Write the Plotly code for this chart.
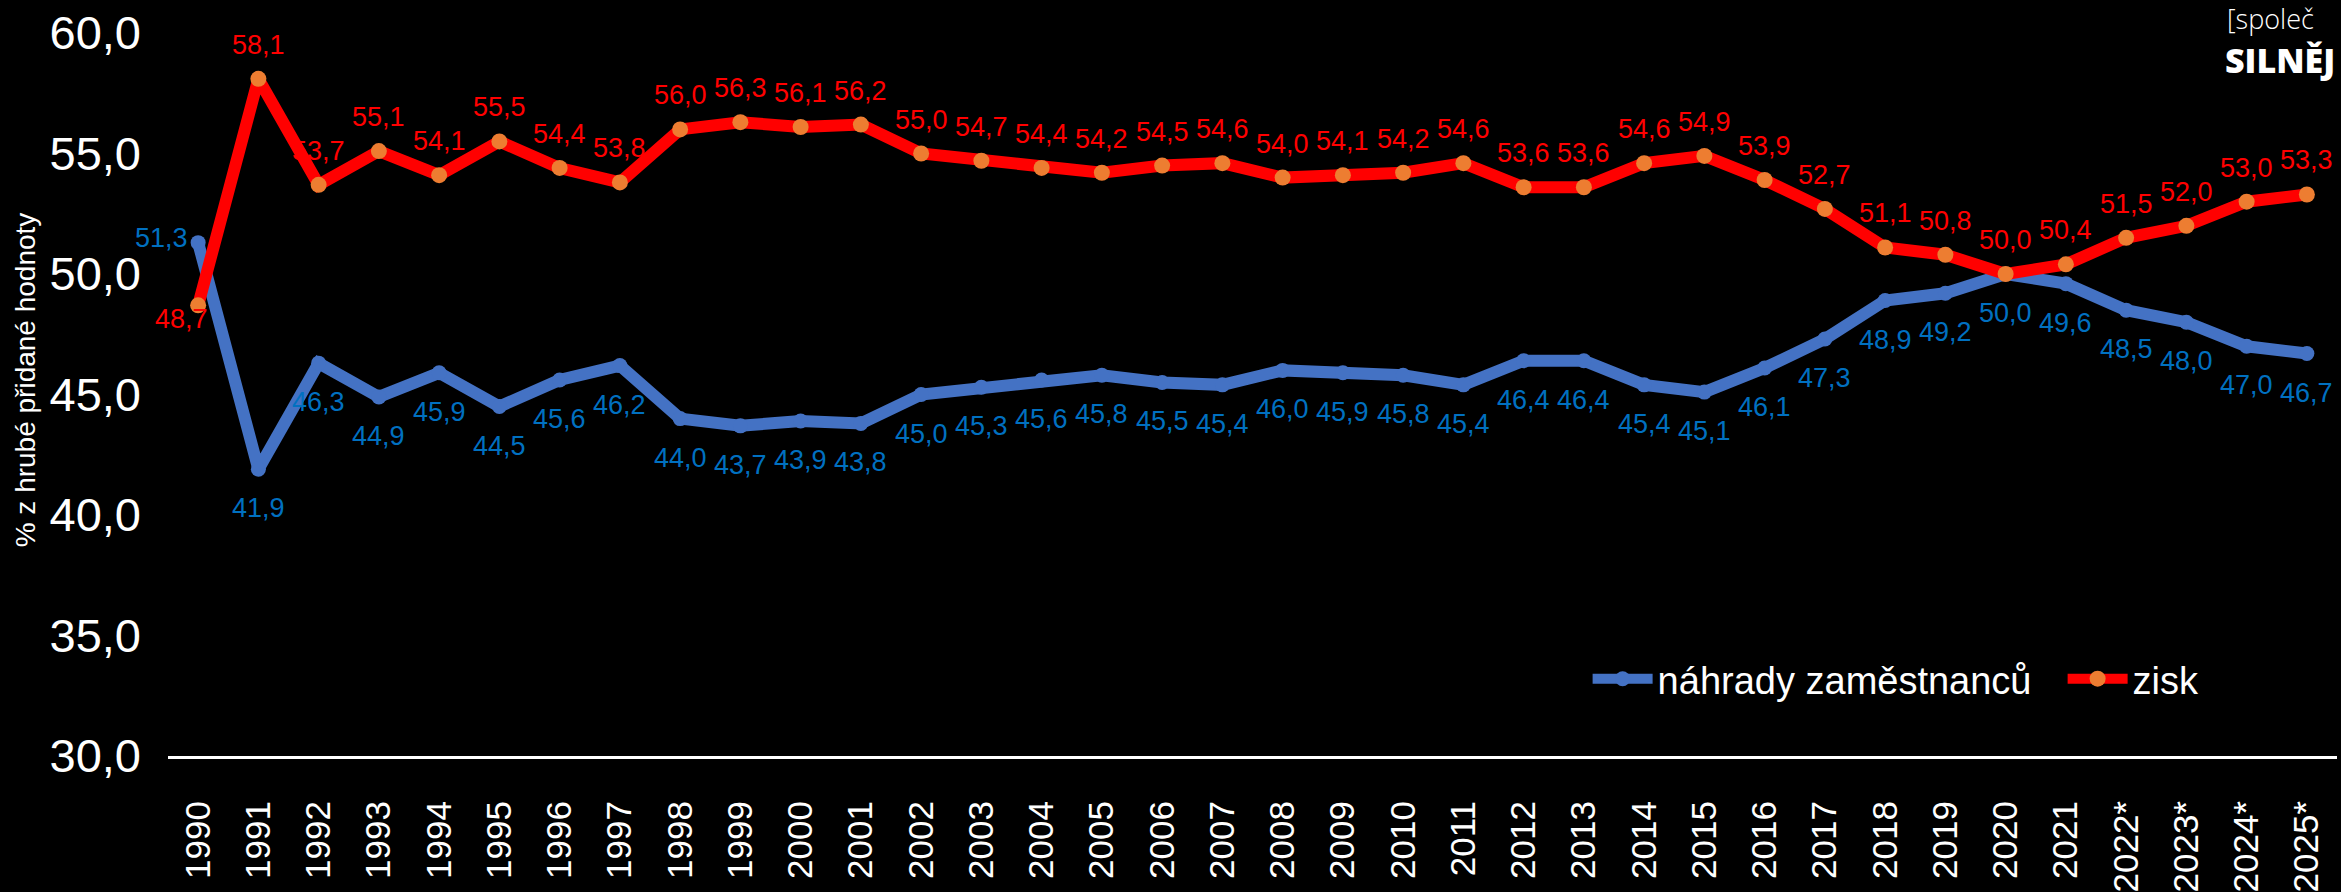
import plotly.graph_objects as go

years = ["1990", "1991", "1992", "1993", "1994", "1995", "1996", "1997", "1998", "1999",
         "2000", "2001", "2002", "2003", "2004", "2005", "2006", "2007", "2008", "2009",
         "2010", "2011", "2012", "2013", "2014", "2015", "2016", "2017", "2018", "2019",
         "2020", "2021", "2022*", "2023*", "2024*", "2025*"]

nahrady = [51.3, 41.9, 46.3, 44.9, 45.9, 44.5, 45.6, 46.2, 44.0, 43.7,
           43.9, 43.8, 45.0, 45.3, 45.6, 45.8, 45.5, 45.4, 46.0, 45.9,
           45.8, 45.4, 46.4, 46.4, 45.4, 45.1, 46.1, 47.3, 48.9, 49.2,
           50.0, 49.6, 48.5, 48.0, 47.0, 46.7]

zisk = [48.7, 58.1, 53.7, 55.1, 54.1, 55.5, 54.4, 53.8, 56.0, 56.3,
        56.1, 56.2, 55.0, 54.7, 54.4, 54.2, 54.5, 54.6, 54.0, 54.1,
        54.2, 54.6, 53.6, 53.6, 54.6, 54.9, 53.9, 52.7, 51.1, 50.8,
        50.0, 50.4, 51.5, 52.0, 53.0, 53.3]

y_ticks = [30, 35, 40, 45, 50, 55, 60]

FONT = "Liberation Sans, Arial, sans-serif"
BLUE = "#4472C4"
BLUE_TXT = "#0070C0"
RED = "#FF0000"
ORANGE = "#ED7D31"


def fmt(v):
    return f"{v:.1f}".replace(".", ",")


fig = go.Figure()
fig.add_trace(go.Scatter(
    x=years, y=nahrady, mode="lines+markers", name="náhrady zaměstnanců",
    line=dict(color=BLUE, width=12), marker=dict(color=BLUE, size=15),
    legend="legend",
))
fig.add_trace(go.Scatter(
    x=years, y=zisk, mode="lines+markers", name="zisk",
    line=dict(color=RED, width=12), marker=dict(color=ORANGE, size=16),
    legend="legend2",
))

annotations = []
for i, v in enumerate(nahrady):
    a = dict(x=i, y=v, xref="x", yref="y", text=fmt(v), showarrow=False,
             font=dict(family=FONT, size=27, color=BLUE_TXT))
    if i == 0:
        a.update(xanchor="right", xshift=-8, yshift=5)
    else:
        a.update(yshift=-39)
    annotations.append(a)
for i, v in enumerate(zisk):
    a = dict(x=i, y=v, xref="x", yref="y", text=fmt(v), showarrow=False,
             font=dict(family=FONT, size=27, color=RED))
    if i == 0:
        a.update(xshift=-17, yshift=-14)
    else:
        a.update(yshift=34)
    annotations.append(a)

# y-axis title
annotations.append(dict(
    text="% z hrubé přidané hodnoty", xref="paper", yref="paper",
    x=-0.0658, y=0.52, xanchor="center", yanchor="middle", textangle=-90,
    showarrow=False, font=dict(family=FONT, size=28, color="white")))

# logo (cut off at the right edge in the original)
annotations.append(dict(
    text="[společ", xref="paper", yref="paper", x=1.0, xshift=-112,
    y=1.0, yshift=35, xanchor="left", yanchor="top", showarrow=False,
    font=dict(family="Open Sans", size=27, color="white", weight=300)))
annotations.append(dict(
    text="SILNĚJ", xref="paper", yref="paper", x=1.0, xshift=-114,
    y=1.0, yshift=-2, xanchor="left", yanchor="top", showarrow=False,
    font=dict(family="Open Sans", size=34, color="white", weight=800)))

legend_common = dict(orientation="h", yanchor="middle", y=0.1065, xanchor="left",
                     font=dict(family=FONT, size=38, color="white"),
                     bgcolor="rgba(0,0,0,0)", itemwidth=60)

fig.update_layout(
    width=2341, height=892,
    paper_bgcolor="black", plot_bgcolor="black",
    margin=dict(l=168, r=4, t=33, b=136),
    separators=", ",
    font=dict(family=FONT, color="white"),
    showlegend=True,
    legend=dict(x=0.6545, **legend_common),
    legend2=dict(x=0.8735, **legend_common),
    annotations=annotations,
    xaxis=dict(type="category", range=[-0.5, 35.5], showgrid=False, zeroline=False,
               showline=True, linecolor="white", linewidth=3, tickangle=-90,
               tickfont=dict(family=FONT, size=35, color="white"), ticks="",
               ticklabelstandoff=28, automargin=False),
    yaxis=dict(range=[30, 60], tickvals=y_ticks, tickformat=".1f", showgrid=False,
               zeroline=False, showline=False, ticks="",
               tickfont=dict(family=FONT, size=47, color="white"),
               ticklabelstandoff=26, automargin=False),
)

fig.write_html(
    "out.html",
    config={"displayModeBar": False},
    post_script="document.body.style.margin='0';document.body.style.background='black';",
)
